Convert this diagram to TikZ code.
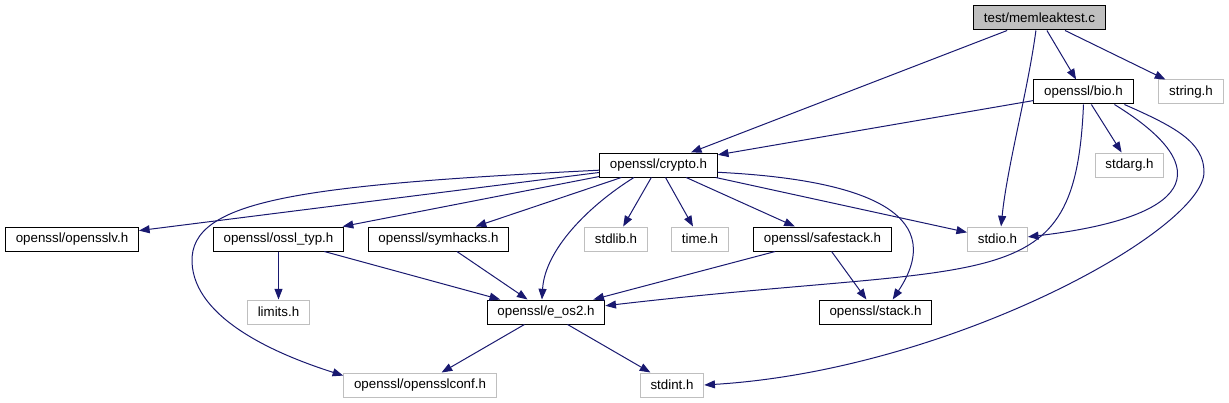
\documentclass[tikz,border=0pt]{standalone}
\usepackage{fontspec}
\setmainfont{Liberation Sans}
\usetikzlibrary{arrows.meta}
\definecolor{dgEdge}{HTML}{191970}
\definecolor{dgGrey}{HTML}{BFBFBF}

\begin{document}
\begin{tikzpicture}[x=0.75pt,y=-0.75pt,font=\fontsize{10}{12}\selectfont,
    file/.style={draw=black,line width=0.75pt,fill=white,inner xsep=7.7pt,
                 inner ysep=0pt,minimum height=18pt},
    sysfile/.style={file,draw=dgGrey},
    dep/.style={color=dgEdge,line width=0.75pt,
                -{Triangle[length=8pt,width=6pt]}}]
  \useasboundingbox (0,0) rectangle (1229,403);
  \node[file,fill=dgGrey] (memtest) at (1039.5,18) {test/memleaktest.c};
  \node[file] (bio) at (1083.5,92) {openssl/bio.h};
  \node[sysfile] (strh) at (1191,92) {string.h};
  \node[file] (crypto) at (658.5,165) {openssl/crypto.h};
  \node[sysfile] (stdarg) at (1129.5,165) {stdarg.h};
  \node[file] (opensslv) at (72,239) {openssl/opensslv.h};
  \node[file] (ossltyp) at (278.5,239) {openssl/ossl\_typ.h};
  \node[file] (symhacks) at (438.5,239) {openssl/symhacks.h};
  \node[sysfile] (stdlib) at (616,239) {stdlib.h};
  \node[sysfile] (timeh) at (700,239) {time.h};
  \node[file] (safestack) at (822.5,239) {openssl/safestack.h};
  \node[sysfile] (stdio) at (997.5,239) {stdio.h};
  \node[sysfile] (limits) at (278.5,312) {limits.h};
  \node[file] (eos2) at (546,312) {openssl/e\_os2.h};
  \node[file] (stack) at (875.5,312) {openssl/stack.h};
  \node[sysfile] (sslconf) at (420,385) {openssl/opensslconf.h};
  \node[sysfile] (stdint) at (672,385) {stdint.h};
  \coordinate (intbend) at (1204,172);
  \coordinate (confbend) at (192,262);

  \draw[dep] (memtest) -- (crypto);
  \draw[dep] (memtest) -- (bio);
  \draw[dep] (memtest) -- (strh);
  \draw[dep] (memtest.254) .. controls +(-8,60) and +(6,-60) .. (stdio.74);

  \draw[dep] (bio) -- (crypto);
  \draw[dep] (bio) -- (stdarg);
  \draw[dep] (bio.338) .. controls +(107,66) and +(162,-19) .. (stdio.4);
  \draw[dep] (bio.south) .. controls +(-8.5,196) and +(395,-46) .. (eos2.6);
  \draw[dep] (bio.343) .. controls +(50,22) and +(0,-30) .. (intbend)
             .. controls +(0,58) and +(246,-15) .. (stdint.east);

  \draw[dep] (crypto) -- (opensslv);
  \draw[dep] (crypto) -- (ossltyp);
  \draw[dep] (crypto) -- (symhacks);
  \draw[dep] (crypto) -- (stdlib);
  \draw[dep] (crypto) -- (timeh);
  \draw[dep] (crypto) -- (safestack);
  \draw[dep] (crypto) -- (stdio);
  \draw[dep] (crypto.353) .. controls +(162,8) and +(53,-80) .. (stack.36);
  \draw[dep] (crypto.207) .. controls +(-45,28) and +(3,-50) .. (eos2.108);
  \draw[dep] (crypto.185) .. controls +(-300,15) and +(-2,-62) .. (confbend)
             .. controls +(2,58) and +(-63,-20) .. (sslconf.173);

  \draw[dep] (ossltyp) -- (limits);
  \draw[dep] (ossltyp) -- (eos2);
  \draw[dep] (symhacks) -- (eos2);
  \draw[dep] (safestack) -- (eos2);
  \draw[dep] (safestack) -- (stack);
  \draw[dep] (eos2) -- (sslconf);
  \draw[dep] (eos2) -- (stdint);
\end{tikzpicture}
\end{document}
